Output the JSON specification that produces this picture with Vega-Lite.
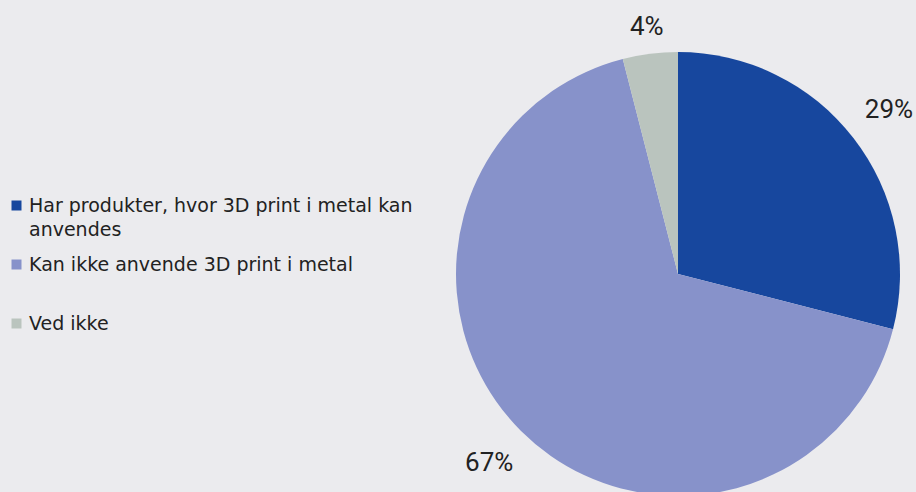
{
  "$schema": "https://vega.github.io/schema/vega-lite/v6.json",
  "width": 444,
  "height": 444,
  "autosize": {"type": "none"},
  "padding": {"left": 456, "top": 52, "right": 16, "bottom": 0},
  "background": "#EBEBEE",
  "config": {"view": {"stroke": null}, "font": "Roboto"},
  "data": {
    "values": [
      {"kategori": "Har produkter, hvor 3D print i metal kan anvendes", "andel": 29, "rk": 1, "etiket": "29%"},
      {"kategori": "Kan ikke anvende 3D print i metal", "andel": 67, "rk": 2, "etiket": "67%"},
      {"kategori": "Ved ikke", "andel": 4, "rk": 3, "etiket": "4%"}
    ]
  },
  "encoding": {
    "theta": {"field": "andel", "type": "quantitative", "stack": true},
    "order": {"field": "rk", "type": "quantitative"}
  },
  "layer": [
    {
      "mark": {"type": "arc"},
      "encoding": {
        "color": {
          "field": "kategori",
          "type": "nominal",
          "scale": {
            "domain": ["Har produkter, hvor 3D print i metal kan anvendes", "Kan ikke anvende 3D print i metal", "Ved ikke"],
            "range": ["#17479E", "#8792CA", "#BAC4BE"]
          },
          "legend": {
            "orient": "none",
            "legendX": -449,
            "legendY": 144,
            "title": null,
            "symbolType": "square",
            "symbolSize": 100,
            "symbolStrokeWidth": 0,
            "labelFont": "DejaVu Sans",
            "labelFontSize": 19,
            "labelFontWeight": "normal",
            "labelColor": "#222222",
            "labelOffset": 3,
            "labelLimit": 500,
            "gridAlign": "all",
            "rowPadding": 15,
            "labelBaseline": "top",
            "labelExpr": "datum.label == 'Har produkter, hvor 3D print i metal kan anvendes' ? ['Har produkter, hvor 3D print i metal kan', 'anvendes'] : datum.label",
            "encode": {"labels": {"update": {"dy": {"value": -9}, "lineHeight": {"value": 24}}}}
          }
        }
      }
    },
    {
      "mark": {"type": "text", "radius": {"expr": "datum.andel < 10 ? 249 : 267"}, "fontSize": 26, "color": "#222222"},
      "encoding": {"text": {"field": "etiket", "type": "nominal"}}
    }
  ]
}
